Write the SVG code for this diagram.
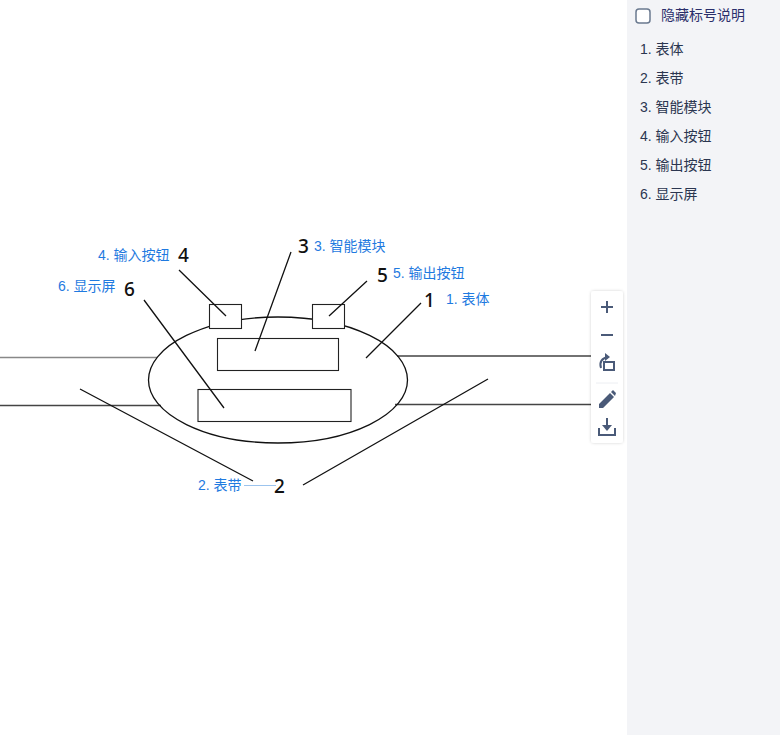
<svg xmlns="http://www.w3.org/2000/svg" width="780" height="735" viewBox="0 0 780 735">
<defs>
<filter id="sh" x="-30%" y="-10%" width="160%" height="120%"><feDropShadow dx="0" dy="0" stdDeviation="1.500" flood-color="#000" flood-opacity="0.180"/></filter>
</defs>
<style>
.s{fill:#fff;stroke:#222;stroke-width:1.100}
.e{fill:none;stroke:#111;stroke-width:1.300}
.b1{fill:none;stroke:#888;stroke-width:1.300}
.b2{fill:none;stroke:#444;stroke-width:1.300}
.l{fill:none;stroke:#111;stroke-width:1.300}
.n{font-family:"Noto Sans","Liberation Sans",sans-serif;font-size:19px;font-weight:500;fill:#111}
.t{font-family:"Liberation Sans","Noto Sans CJK SC",sans-serif;font-size:14px;fill:#1f7ae0}
.p{font-family:"Liberation Sans","Noto Sans CJK SC",sans-serif;font-size:14px;fill:#2b3650}
.h{fill:#2b2f6b}
.i{fill:none;stroke:#4a5a78;stroke-width:2}
</style>
<rect width="780" height="735" fill="#fff"/>
<g id="panel">
<rect x="627" y="0" width="153" height="735" fill="#f3f4f7"/>
<rect x="636" y="9" width="14" height="14" rx="3" fill="#fff" stroke="#6b7a90" stroke-width="1.500"/>
<text class="p h" x="661" y="20">隐藏标号说明</text>
<text class="p" x="640" y="54">1. 表体</text>
<text class="p" x="640" y="83">2. 表带</text>
<text class="p" x="640" y="112">3. 智能模块</text>
<text class="p" x="640" y="141">4. 输入按钮</text>
<text class="p" x="640" y="170">5. 输出按钮</text>
<text class="p" x="640" y="199">6. 显示屏</text>
</g>
<g id="band">
<path class="b1" d="M0 357.500H157"/>
<path class="b2" d="M0 405.500H161M397 356H591M395 404.500H591"/>
</g>
<g id="body"><ellipse class="e" cx="278" cy="380" rx="129.500" ry="63"/></g>
<g id="btn-in"><rect class="s" x="209.500" y="304.500" width="32" height="24"/></g>
<g id="btn-out"><rect class="s" x="312.500" y="304.500" width="32" height="24"/></g>
<g id="module"><rect class="s" x="217.500" y="338.500" width="121" height="32"/></g>
<g id="screen"><rect class="s" x="198" y="389.500" width="153" height="32"/></g>
<g id="connectors">
<path class="l" d="M179 270L226 316M291 252L255 351M367 281L329 316M421 303L366 358M144 300L224 408M80 389L253 481M303 485L488 379"/>
<path d="M244 485.500H276" fill="none" stroke="#9cc4ee" stroke-width="1"/>
</g>
<g id="labels">
<text class="n" x="178" y="262">4</text>
<text class="n" x="298" y="253">3</text>
<text class="n" x="377" y="282">5</text>
<text class="n" x="424" y="307">1</text>
<text class="n" x="124" y="296">6</text>
<text class="n" x="274" y="493">2</text>
<text class="t" x="98" y="260">4. 输入按钮</text>
<text class="t" x="314" y="251">3. 智能模块</text>
<text class="t" x="393" y="278">5. 输出按钮</text>
<text class="t" x="446" y="304">1. 表体</text>
<text class="t" x="58" y="291">6. 显示屏</text>
<text class="t" x="198" y="490">2. 表带</text>
</g>
<g id="toolbar">
<rect x="591" y="291" width="32" height="152" rx="3" fill="#fff" filter="url(#sh)"/>
<path class="i" d="M601 307H613M607 301V313M601 335H613"/>
<path class="i" d="M604 362H614V370H604ZM601 368C599 362 602 358 608 357"/>
<path d="M605 353L610 357L605 361Z" fill="#4a5a78"/>
<path d="M596 383H618" stroke="#eceef2" stroke-width="1"/>
<path d="M599 408V404L610 393L614 397L603 408Z M611 392L613 390L616 393L615 396Z" fill="#4a5a78"/>
<path class="i" d="M599 428V435H615V428"/>
<path class="i" d="M607 418V428"/>
<path d="M602 425H612L607 431Z" fill="#4a5a78"/>
</g>
</svg>
